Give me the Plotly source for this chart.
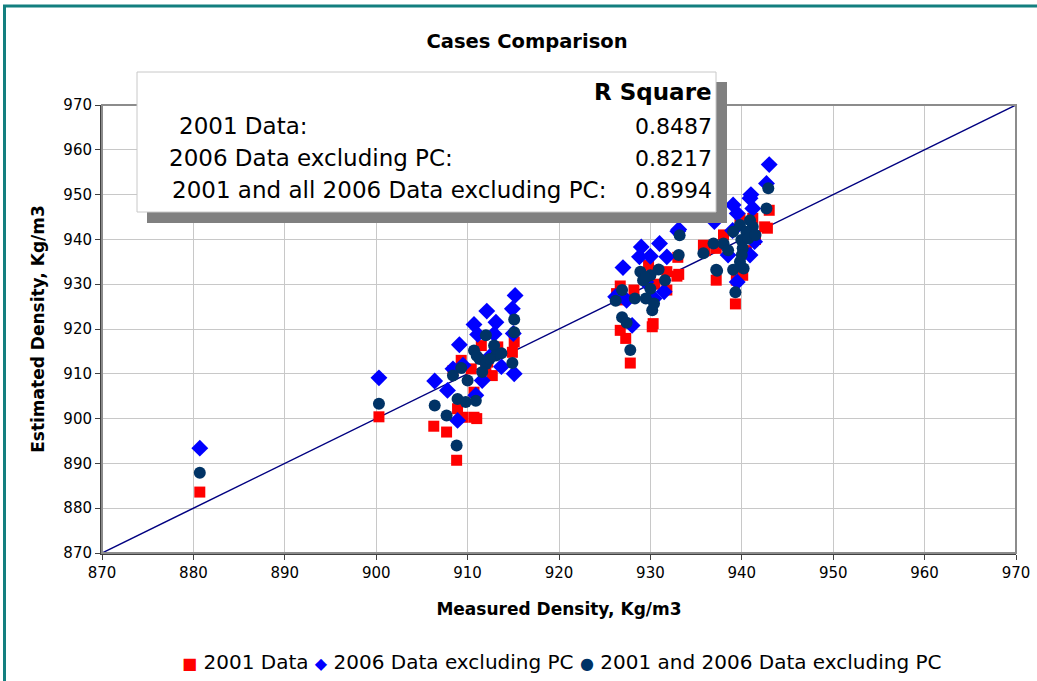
import plotly.graph_objects as go

# 2001 Data (red squares)
x_2001 = [880.7, 900.3,
          906.3, 907.7, 908.8, 915.1, 914.9, 911.5, 913.3, 909.3, 908.4, 912.7, 910.7, 908.9, 910.7, 909.5,
          910.4, 912.2, 911.0, 912.0,
          927.8, 927.3, 926.7, 930.2, 930.3, 933.1, 929.8, 926.7, 928.2, 931.8, 931.8, 926.3, 929.5, 930.5, 927.0,
          942.5, 939.8, 941.2, 938.0, 935.8, 937.2, 940.1, 939.4, 937.2, 939.3, 943.0, 942.8, 940.5, 941.5,
          933.0, 932.9, 936.0]
y_2001 = [883.6, 900.4,
          898.3, 897.0, 890.7, 917.1, 914.8, 916.3, 916.0, 913.0, 910.7, 909.6, 905.9, 902.2, 900.3, 900.3,
          911.1, 912.6, 900.0, 911.5,
          912.4, 917.9, 919.7, 920.5, 921.2, 932.2, 934.2, 929.6, 928.7, 928.7, 932.8, 927.9, 931.0, 930.0, 926.5,
          942.8, 944.7, 944.7, 941.0, 938.7, 938.0, 932.0, 930.9, 930.9, 925.6, 946.5, 942.5, 937.5, 940.0,
          936.0, 931.8, 937.5]

# 2006 Data excluding PC (blue diamonds)
x_2006 = [880.7, 900.3,
          915.2, 914.9, 912.1, 913.1, 910.7, 911.1, 912.9, 909.1, 913.7, 915.1, 906.4, 907.8, 908.9, 908.4,
          909.5, 911.6, 910.9, 915.0, 912.5,
          933.1, 929.0, 931.0, 928.8, 930.0, 931.8, 927.0, 931.5, 927.4, 930.4, 928.0, 926.2, 929.5,
          943.0, 942.7, 940.9, 941.2, 939.05, 939.5, 941.4, 938.5, 940.9, 937.0, 939.5, 933.0, 941.0, 939.0]
y_2006 = [893.4, 909.1,
          927.5, 924.5, 924.0, 921.5, 921.0, 918.8, 918.9, 916.5, 911.6, 910.0, 908.4, 906.3, 899.6, 911.1,
          911.9, 908.5, 905.2, 919.0, 914.0,
          942.2, 938.3, 939.1, 936.1, 936.25, 936.1, 933.7, 928.3, 926.4, 926.8, 920.8, 927.2, 930.5,
          956.7, 952.5, 949.2, 946.9, 947.7, 945.8, 939.5, 936.5, 936.5, 944.0, 930.5, 941.8, 950.0, 942.0]

# 2001 and 2006 Data excluding PC (navy circles)
x_all = [880.7, 900.3,
         906.4, 907.7, 908.8, 915.1, 915.1, 914.9, 912.0, 912.9, 910.7, 911.3, 912.0, 913.1, 911.6, 909.3,
         908.4, 910.0, 908.9, 909.8, 910.9, 913.7, 912.4, 911.0,
         933.2, 933.1, 927.8, 926.9, 927.4, 926.2, 926.9, 928.3, 928.9, 930.0, 930.9, 931.6, 929.2, 930.0,
         929.5, 930.2, 930.4, 929.5,
         942.9, 942.7, 940.9, 941.2, 939.8, 939.05, 940.5, 939.95, 940.7, 936.9, 938.0, 938.5, 935.8, 940.1,
         940.0, 939.8, 940.2, 937.2, 939.05, 939.3, 937.3, 941.5]
y_all = [887.9, 903.3,
         902.9, 900.7, 894.0, 922.1, 919.3, 912.4, 918.6, 916.3, 915.2, 913.3, 912.2, 914.1, 910.4, 911.3,
         909.6, 908.5, 904.4, 903.7, 904.0, 914.6, 913.3, 914.0,
         940.9, 936.5, 915.3, 922.6, 921.4, 926.3, 928.7, 926.8, 932.8, 932.0, 933.3, 930.9, 930.9, 929.0,
         926.8, 924.2, 925.7, 931.5,
         951.4, 946.9, 944.3, 942.8, 943.2, 941.7, 941.7, 939.85, 940.2, 939.1, 939.1, 937.6, 936.9, 938.0,
         936.5, 935.0, 933.5, 933.2, 933.2, 928.2, 933.0, 941.0]

# 1:1 reference line
line_x = [870, 970]
line_y = [870, 970]

ticks = list(range(870, 971, 10))

series_names = ["2001 Data", "2006 Data excluding PC", "2001 and 2006 Data excluding PC"]
r2_labels = ["2001 Data:", "2006 Data excluding PC:", "2001 and all 2006 Data excluding PC:"]
r2_values = ["0.8487", "0.8217", "0.8994"]

FONT = "DejaVu Sans, Arial, sans-serif"
RED, BLUE, NAVY = "#FF0000", "#0000FF", "#003366"

fig = go.Figure()

fig.add_trace(go.Scatter(
    x=line_x, y=line_y, mode="lines",
    line=dict(color="#000080", width=1.5),
    showlegend=False, hoverinfo="skip", cliponaxis=False
))
fig.add_trace(go.Scatter(
    x=x_2001, y=y_2001, mode="markers", name=series_names[0],
    marker=dict(symbol="square", size=11, color=RED)
))
fig.add_trace(go.Scatter(
    x=x_2006, y=y_2006, mode="markers", name=series_names[1],
    marker=dict(symbol="diamond", size=13, color=BLUE)
))
fig.add_trace(go.Scatter(
    x=x_all, y=y_all, mode="markers", name=series_names[2],
    marker=dict(symbol="circle", size=12, color=NAVY)
))

# plot area in page pixels
L, R, T, B = 102, 1016, 105, 553
W, H = R - L, B - T

def px(x):
    return (x - L) / W

def py(y):
    return (B - y) / H

shapes = [
    # plot area border (top/right grey)
    dict(type="rect", xref="paper", yref="paper", x0=0, x1=1, y0=0, y1=1,
         line=dict(color="#8C8C8C", width=2), layer="above"),
    # outer teal frame
    dict(type="rect", xref="paper", yref="paper",
         x0=px(4.5), x1=px(1060), y0=py(700), y1=py(6),
         line=dict(color="#137F7F", width=3), layer="above"),
    # box shadow
    dict(type="rect", xref="paper", yref="paper",
         x0=px(147), x1=px(727), y0=py(223), y1=py(82),
         fillcolor="#808080", line=dict(width=0), layer="above"),
    # box
    dict(type="rect", xref="paper", yref="paper",
         x0=px(137), x1=px(716), y0=py(212), y1=py(72),
         fillcolor="white", line=dict(color="#C8C8C8", width=1), layer="above"),
]

annotations = [
    dict(text="<b>R Square</b>", xref="paper", yref="paper", x=px(714), y=py(92),
         xanchor="right", yanchor="middle", showarrow=False,
         font=dict(family=FONT, size=23, color="black")),
]
label_x = [177, 167, 170]
row_y = [126, 158, 190]
for lab, val, lx, ry in zip(r2_labels, r2_values, label_x, row_y):
    annotations.append(dict(text=lab, xref="paper", yref="paper", x=px(lx), y=py(ry),
                            xanchor="left", yanchor="middle", showarrow=False,
                            font=dict(family=FONT, size=23, color="black")))
    annotations.append(dict(text=val, xref="paper", yref="paper", x=px(714), y=py(ry),
                            xanchor="right", yanchor="middle", showarrow=False,
                            font=dict(family=FONT, size=22, color="black")))

# legend drawn as one line of text with coloured symbols
legend_syms = [("&#9632;", RED), ("&#9670;", BLUE), ("&#9679;", NAVY)]
legend_text = " ".join(
    f'<span style="color:{c};font-size:16px">{s}</span> {n}'
    for (s, c), n in zip(legend_syms, series_names)
)
annotations.append(dict(text=legend_text, xref="paper", yref="paper", x=px(562), y=py(662),
                        xanchor="center", yanchor="middle", showarrow=False,
                        font=dict(family=FONT, size=20, color="black")))

fig.update_layout(
    width=1037, height=681,
    margin=dict(l=L, r=1037 - R, t=T, b=681 - B),
    paper_bgcolor="white", plot_bgcolor="white",
    font=dict(family=FONT, color="black"),
    showlegend=False,
    title=dict(text="<b>Cases Comparison</b>", x=(527 - L) / W, xref="paper", y=1 - 41 / 681,
               xanchor="center", yanchor="middle",
               font=dict(family=FONT, size=19.5, color="black")),
    xaxis=dict(
        range=[870, 970], tickvals=ticks, ticks="outside", ticklen=5, tickcolor="#404040",
        showgrid=True, gridcolor="#C8C8C8", gridwidth=1, automargin=False,
        showline=True, linecolor="#404040", linewidth=2,
        zeroline=False, tickfont=dict(size=15),
        title=dict(text="<b>Measured Density, Kg/m3</b>", font=dict(size=17), standoff=22),
    ),
    yaxis=dict(
        range=[870, 970], tickvals=ticks, ticks="outside", ticklen=5, tickcolor="#404040",
        showgrid=True, gridcolor="#C8C8C8", gridwidth=1, automargin=False,
        showline=True, linecolor="#404040", linewidth=2,
        zeroline=False, tickfont=dict(size=15),
        title=dict(text="<b>Estimated Density, Kg/m3</b>", font=dict(size=17), standoff=14),
    ),
    shapes=shapes,
    annotations=annotations,
)

fig.write_html("out.html", config={"displayModeBar": False},
               post_script="document.body.style.margin='0';document.body.style.overflow='hidden';")
